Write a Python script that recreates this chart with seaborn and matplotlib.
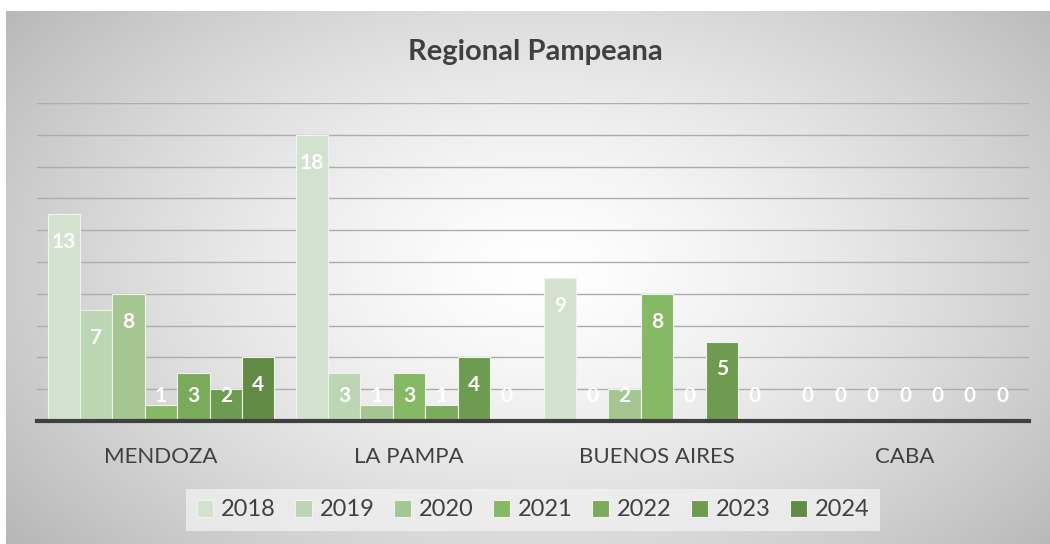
import numpy as np
import pandas as pd
import seaborn as sns
import matplotlib.pyplot as plt

# data
regions = ['MENDOZA', 'LA PAMPA', 'BUENOS AIRES', 'CABA']
years = ['2018', '2019', '2020', '2021', '2022', '2023', '2024']
mendoza = [13, 7, 8, 1, 3, 2, 4]
la_pampa = [18, 3, 1, 3, 1, 4, 0]
buenos_aires = [9, 0, 2, 8, 0, 5, 0]
caba = [0, 0, 0, 0, 0, 0, 0]

colors = ['#d3e2cf', '#bcd5b3', '#a5c690', '#86b963', '#7aab5a', '#6d9b50', '#628b46']

rows = []
for reg, vals in zip(regions, [mendoza, la_pampa, buenos_aires, caba]):
    for yr, v in zip(years, vals):
        rows.append({'region': reg, 'year': yr, 'value': v})
df = pd.DataFrame(rows)

sns.set_style('white')
plt.rcParams['font.family'] = ['Lato', 'DejaVu Sans']

fig = plt.figure(figsize=(10.5, 5.44), dpi=100)

# background: radial gray gradient inside the chart area
bg = fig.add_axes([0, 0, 1, 1], zorder=-5)
W, H = 1050, 544
xx, yy = np.meshgrid(np.arange(W), np.arange(H))
d = np.sqrt(((xx - 540) / 620.0) ** 2 + ((yy - 270) / 400.0) ** 2)
shade = 1.0 - 0.25 * np.clip(d, 0, 1.1) ** 1.4
img = np.dstack([shade, shade, shade])
inside = (xx >= 6) & (yy >= 11)
img[~inside] = 1.0
bg.imshow(img, extent=[0, W, H, 0], aspect='auto', interpolation='bilinear')
bg.set_xlim(0, W)
bg.set_ylim(H, 0)
bg.axis('off')

ax = fig.add_axes([37 / W, (H - 421) / H, 992 / W, 318 / H])
ax.set_facecolor('none')
sns.barplot(data=df, x='region', y='value', hue='year', palette=colors, saturation=1,
            width=0.915, edgecolor='#eef3ec', linewidth=0.8, ax=ax, zorder=3)

ax.set_ylim(0, 20)
ax.set_xlim(-0.5, 3.5)
ax.set_yticks(np.arange(2, 21, 2))
ax.yaxis.grid(True, color='#adadad', lw=1.0, zorder=0)
ax.set_axisbelow(True)
ax.tick_params(axis='y', left=False, labelleft=False)
ax.tick_params(axis='x', bottom=False, labelsize=16, labelcolor='#404040', pad=15)
ax.set_xlabel('')
ax.set_ylabel('')
for s in ['top', 'right', 'left']:
    ax.spines[s].set_visible(False)
ax.spines['bottom'].set_color('#404040')
ax.spines['bottom'].set_linewidth(3)
ax.spines['bottom'].set_zorder(5)

# data labels, white, inside end of each bar
for cont in ax.containers:
    for bar, v in zip(cont, cont.datavalues):
        cx = bar.get_x() + bar.get_width() / 2
        ty = max(v - 1.75, 1.6)
        ax.text(cx, ty, f'{int(v)}', ha='center', va='center', color='white',
                fontsize=15, fontweight='bold', zorder=6)

handles, labels = ax.get_legend_handles_labels()
if ax.legend_:
    ax.legend_.remove()
leg = fig.legend(handles, labels, loc='center', bbox_to_anchor=(533 / W, (H - 510) / H),
                 ncol=7, frameon=True, fontsize=17, handlelength=0.7, handleheight=0.7,
                 handletextpad=0.35, columnspacing=0.82, borderpad=0.45, fancybox=False)
leg.get_frame().set_facecolor('#f0f0f0')
leg.get_frame().set_edgecolor('none')
for t in leg.get_texts():
    t.set_color('#404040')

fig.text(535 / W, (H - 52) / H, 'Regional Pampeana', ha='center', va='center',
         fontsize=21, fontweight='bold', color='#404040')

fig.savefig('out.png', dpi=100)
